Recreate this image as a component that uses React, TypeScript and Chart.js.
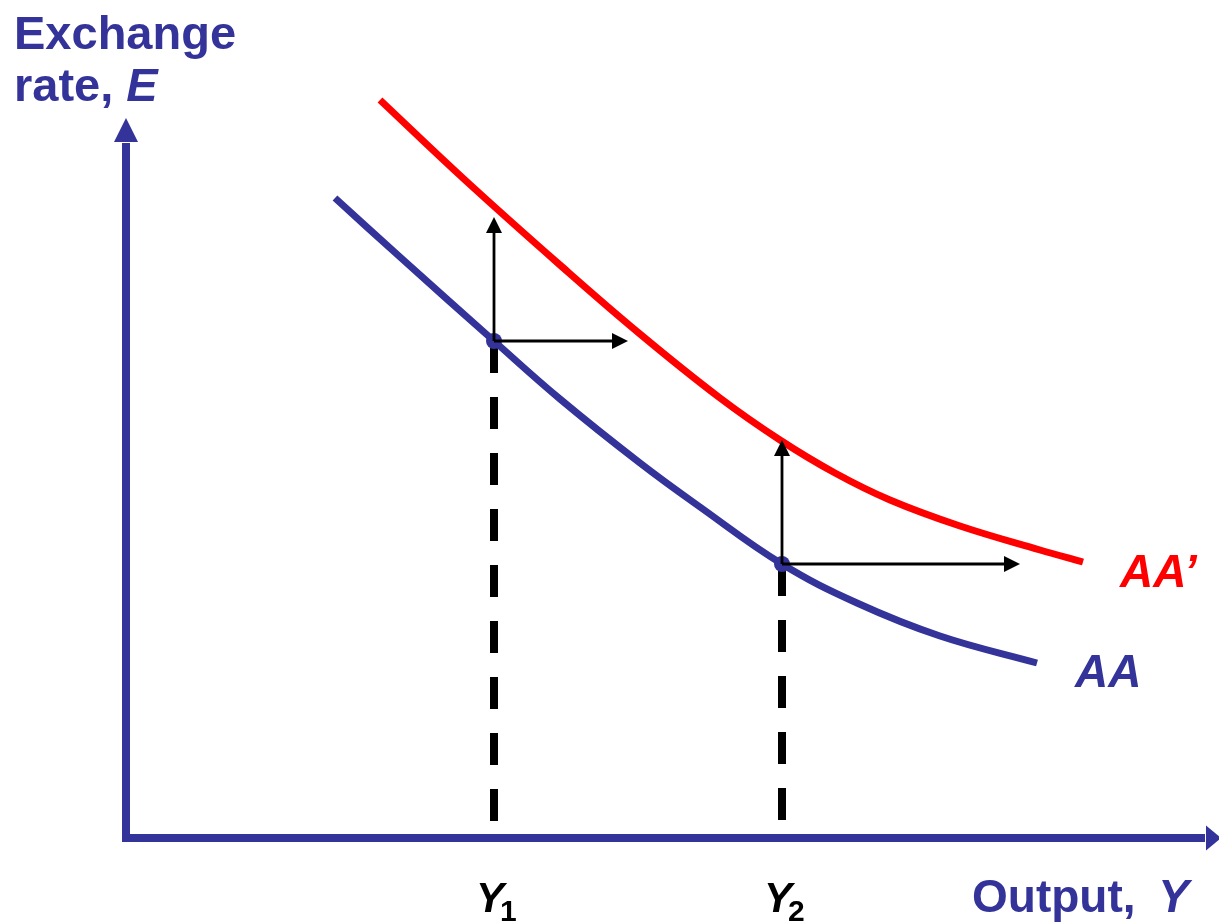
import { useEffect, useRef } from 'react';
import { Chart, registerables } from 'chart.js';

Chart.register(...registerables);

// Curve AA (output units, exchange-rate units)
const aaX = [209, 274, 368, 434, 514, 574, 656, 731, 814, 911];
const aaY = [640, 581, 497, 439, 375, 331, 274, 235, 202, 175];
// Curve AA'
const aaPrimeX = [254, 339, 434, 514, 594, 654, 709, 764, 834, 914, 957];
const aaPrimeY = [738, 658, 573, 504, 440, 398, 365, 338, 312, 288, 276];
// Equilibria on AA
const eqOutput = [368, 656];
const eqRate = [497, 274];
const eqSubscripts = ['1', '2'];
// Shift arrows: tips
const upArrowTip = [621, 398];
const rightArrowTip = [502, 894];

const BLUE = '#333399';
const RED = '#FF0000';
const FONT = '"Liberation Sans", Arial, Helvetica, sans-serif';

export default function App() {
  const ref = useRef<HTMLCanvasElement>(null);

  useEffect(() => {
    const canvas = ref.current!;
    const toPts = (xs: number[], ys: number[]) => xs.map((x, i) => ({ x, y: ys[i] }));

    const diagram = {
      id: 'diagram',
      beforeDatasetsDraw(chart: any) {
        const { ctx } = chart;
        const xs = chart.scales.x;
        const ys = chart.scales.y;
        const x0 = xs.getPixelForValue(0);
        const y0 = ys.getPixelForValue(0);
        ctx.save();
        ctx.strokeStyle = BLUE;
        ctx.fillStyle = BLUE;
        ctx.lineWidth = 8;
        ctx.lineCap = 'butt';
        // y axis
        const yBase = ys.getPixelForValue(696);
        ctx.beginPath();
        ctx.moveTo(x0, y0 + 4);
        ctx.lineTo(x0, yBase + 1);
        ctx.stroke();
        ctx.beginPath();
        ctx.moveTo(x0 - 12, yBase);
        ctx.lineTo(x0 + 12, yBase);
        ctx.lineTo(x0, ys.getPixelForValue(720));
        ctx.closePath();
        ctx.fill();
        // x axis
        const xBase = xs.getPixelForValue(1080);
        ctx.beginPath();
        ctx.moveTo(x0 - 4, y0);
        ctx.lineTo(xBase - 1, y0);
        ctx.stroke();
        ctx.beginPath();
        ctx.moveTo(xBase, y0 - 12.5);
        ctx.lineTo(xBase, y0 + 12.5);
        ctx.lineTo(xs.getPixelForValue(1095), y0);
        ctx.closePath();
        ctx.fill();
        ctx.restore();
      },
      afterDatasetsDraw(chart: any) {
        const { ctx } = chart;
        const xs = chart.scales.x;
        const ys = chart.scales.y;
        ctx.save();
        // equilibrium dots
        ctx.fillStyle = BLUE;
        eqOutput.forEach((q, i) => {
          ctx.beginPath();
          ctx.arc(xs.getPixelForValue(q), ys.getPixelForValue(eqRate[i]), 8, 0, Math.PI * 2);
          ctx.fill();
        });
        ctx.strokeStyle = '#000';
        ctx.fillStyle = '#000';
        ctx.lineWidth = 2.8;
        eqOutput.forEach((q, i) => {
          const px = xs.getPixelForValue(q);
          const py = ys.getPixelForValue(eqRate[i]);
          const upTip = ys.getPixelForValue(upArrowTip[i]);
          const rightTip = xs.getPixelForValue(rightArrowTip[i]);
          // vertical arrow
          ctx.beginPath();
          ctx.moveTo(px, py);
          ctx.lineTo(px, upTip + 14);
          ctx.stroke();
          ctx.beginPath();
          ctx.moveTo(px - 8, upTip + 16);
          ctx.lineTo(px + 8, upTip + 16);
          ctx.lineTo(px, upTip);
          ctx.closePath();
          ctx.fill();
          // horizontal arrow
          ctx.beginPath();
          ctx.moveTo(px, py);
          ctx.lineTo(rightTip - 14, py);
          ctx.stroke();
          ctx.beginPath();
          ctx.moveTo(rightTip - 16, py - 8);
          ctx.lineTo(rightTip - 16, py + 8);
          ctx.lineTo(rightTip, py);
          ctx.closePath();
          ctx.fill();
        });
        ctx.restore();

        // Labels
        ctx.save();
        ctx.textBaseline = 'alphabetic';
        ctx.textAlign = 'left';
        const parts = (x: number, y: number, items: [string, string, number][], color: string) => {
          ctx.fillStyle = color;
          let cx = x;
          for (const [text, font, gap] of items) {
            ctx.font = font;
            ctx.fillText(text, cx, y);
            cx += ctx.measureText(text).width + gap;
          }
        };
        const B = `bold 47px ${FONT}`;
        const BI = `italic bold 47px ${FONT}`;
        parts(14, 49, [['Exchange', B, 0]], BLUE);
        parts(14, 101, [['rate, ', B, 0], ['E', BI, 0]], BLUE);
        parts(972, 912, [['Output, ', `bold 46px ${FONT}`, 10], ['Y', `italic bold 46px ${FONT}`, 0]], BLUE);
        parts(1120, 587, [['AA\u2019', `italic bold 46px ${FONT}`, 0]], RED);
        parts(1075, 687, [['AA', `italic bold 46px ${FONT}`, 0]], BLUE);
        eqOutput.forEach((q, i) => {
          const px = xs.getPixelForValue(q);
          ctx.fillStyle = '#000';
          ctx.font = `italic bold 42px ${FONT}`;
          ctx.fillText('Y', px - 18, 912);
          const w = ctx.measureText('Y').width;
          ctx.font = `bold 30px ${FONT}`;
          ctx.fillText(eqSubscripts[i], px - 18 + w - 4, 921);
        });
        ctx.restore();
      },
    };

    const chart = new Chart(canvas, {
      type: 'line',
      data: {
        datasets: [
          {
            label: 'AA',
            data: toPts(aaX, aaY),
            borderColor: BLUE,
            borderWidth: 7,
            pointRadius: 0,
            tension: 0.4,
            fill: false,
            order: 2,
          },
          {
            label: "AA'",
            data: toPts(aaPrimeX, aaPrimeY),
            borderColor: RED,
            borderWidth: 7,
            pointRadius: 0,
            tension: 0.4,
            fill: false,
            order: 2,
          },
          ...eqOutput.map((q, i) => ({
            label: 'guide' + i,
            data: [
              { x: q, y: eqRate[i] },
              { x: q, y: 0 },
            ],
            borderColor: '#000',
            borderWidth: 8,
            borderDash: [32, 24],
            borderCapStyle: 'butt' as const,
            pointRadius: 0,
            tension: 0,
            fill: false,
            order: 3,
          })),
        ],
      },
      options: {
        animation: false,
        responsive: false,
        maintainAspectRatio: false,
        devicePixelRatio: 1,
        events: [],
        layout: { padding: { left: 126, right: 0, top: 80, bottom: 86 } },
        scales: {
          x: { type: 'linear', min: 0, max: 1093, display: false },
          y: { type: 'linear', min: 0, max: 758, display: false },
        },
        plugins: { legend: { display: false }, tooltip: { enabled: false } },
      },
      plugins: [diagram],
    } as any);

    return () => chart.destroy();
  }, []);

  return (
    <div style={{ position: 'fixed', left: 0, top: 0, width: 1219, height: 924, background: '#fff' }}>
      <canvas ref={ref} width={1219} height={924} style={{ display: 'block', width: 1219, height: 924 }} />
    </div>
  );
}
